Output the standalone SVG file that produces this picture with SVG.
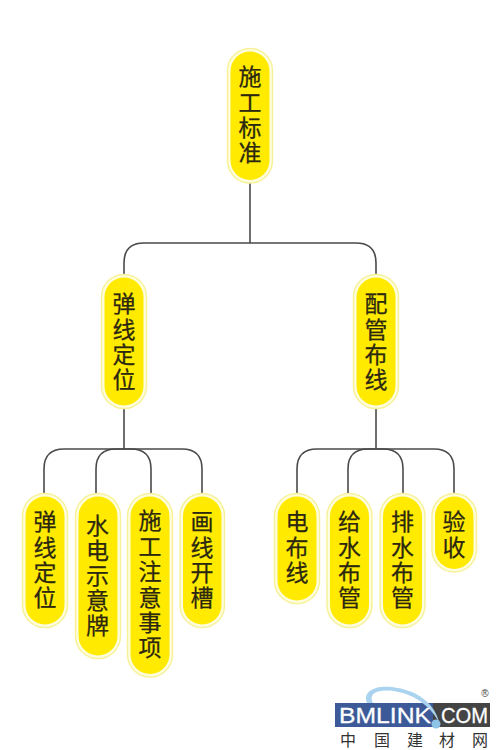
<svg xmlns="http://www.w3.org/2000/svg" width="500" height="750" viewBox="0 0 500 750">
<style>
.o{fill:#fffde0;stroke:#f7f29a;stroke-width:1.5}
.i{fill:#ffea00}
.t{font-family:"Noto Sans CJK SC","Noto Sans CJK TC",sans-serif;font-size:23px;fill:#2b2710;stroke:#2b2710;stroke-width:.25;text-anchor:middle}
.c{fill:none;stroke:#4a4a4a;stroke-width:1.6}
.l{font-family:"Liberation Sans",sans-serif;font-size:22px;fill:#fff;stroke:#fff;stroke-width:.3}
.g{font-family:"Noto Sans CJK SC",sans-serif;font-size:16px;fill:#333;text-anchor:middle}
</style>
<rect width="500" height="750" fill="#fff"/>
<g id="connectors" class="c">
<path d="M250 183V243"/>
<path d="M124 274V263Q124 243 144 243H356Q376 243 376 263V274"/>
<path d="M124 408V449"/>
<path d="M44 493V469Q44 449 64 449H182Q202 449 202 469V493"/>
<path d="M96 493V469Q96 449 116 449H131Q151 449 151 469V493"/>
<path d="M376 408V449"/>
<path d="M297 493V469Q297 449 317 449H434Q454 449 454 469V493"/>
<path d="M348 493V469Q348 449 368 449H383Q403 449 403 469V493"/>
</g>
<g id="n0"><rect class="o" x="227.500" y="48.500" width="45" height="134.500" rx="22.500"/><rect class="i" x="230.500" y="51.500" width="39" height="128.500" rx="19.500"/><text class="t" x="250 250 250 250" y="85 111 136 161">施工标准</text></g>
<g id="n1"><rect class="o" x="101.500" y="274.500" width="45" height="134" rx="22.500"/><rect class="i" x="104.500" y="277.500" width="39" height="128" rx="19.500"/><text class="t" x="124 124 124 124" y="312 338 363 388">弹线定位</text></g>
<g id="n2"><rect class="o" x="353.500" y="274.500" width="45" height="134" rx="22.500"/><rect class="i" x="356.500" y="277.500" width="39" height="128" rx="19.500"/><text class="t" x="376 376 376 376" y="312 338 363 388">配管布线</text></g>
<g id="n3"><rect class="o" x="22.500" y="493.500" width="45" height="134" rx="22.500"/><rect class="i" x="25.500" y="496.500" width="39" height="128" rx="19.500"/><text class="t" x="45 45 45 45" y="530 556 581 606">弹线定位</text></g>
<g id="n4"><rect class="o" x="75.500" y="493.500" width="45" height="165" rx="22.500"/><rect class="i" x="78.500" y="496.500" width="39" height="159" rx="19.500"/><text class="t" x="97.500 97.500 97.500 97.500 97.500" y="534 559 584 609 634">水电示意牌</text></g>
<g id="n5"><rect class="o" x="127.500" y="493.500" width="45" height="183.500" rx="22.500"/><rect class="i" x="130.500" y="496.500" width="39" height="177.500" rx="19.500"/><text class="t" x="150 150 150 150 150 150" y="529 555 580 606 631 656">施工注意事项</text></g>
<g id="n6"><rect class="o" x="180" y="493.500" width="44.500" height="134" rx="22.250"/><rect class="i" x="183" y="496.500" width="38.500" height="128" rx="19.250"/><text class="t" x="202 202 202 202" y="530 556 581 606">画线开槽</text></g>
<g id="n7"><rect class="o" x="274.500" y="493.500" width="45" height="110" rx="22.500"/><rect class="i" x="277.500" y="496.500" width="39" height="104" rx="19.500"/><text class="t" x="297 297 297" y="530 556 581">电布线</text></g>
<g id="n8"><rect class="o" x="327" y="493.500" width="45" height="134" rx="22.500"/><rect class="i" x="330" y="496.500" width="39" height="128" rx="19.500"/><text class="t" x="349.500 349.500 349.500 349.500" y="530 556 581 606">给水布管</text></g>
<g id="n9"><rect class="o" x="380" y="493.500" width="45" height="134" rx="22.500"/><rect class="i" x="383" y="496.500" width="39" height="128" rx="19.500"/><text class="t" x="402.500 402.500 402.500 402.500" y="530 556 581 606">排水布管</text></g>
<g id="n10"><rect class="o" x="432" y="493.500" width="44.500" height="78.500" rx="22.250"/><rect class="i" x="435" y="496.500" width="38.500" height="72.500" rx="19.250"/><text class="t" x="454 454" y="530 556">验收</text></g>
<rect x="335" y="703" width="98" height="24" fill="#3d5a98"/>
<rect x="433" y="703" width="57" height="24" fill="#444"/>
<path d="M367 703C362 690 378 684 398 688C420 692 435 705 439 722C428 703 412 694 394 691C378 689 368 693 373 703Z" fill="#a9d3ef"/>
<circle cx="436" cy="724" r="4.500" fill="#8ec3e8"/>
<text class="l" x="339" y="722.500" textLength="92" lengthAdjust="spacingAndGlyphs">BMLINK</text>
<text class="l" x="441" y="722.500" textLength="47" lengthAdjust="spacingAndGlyphs">COM</text>
<text x="485" y="697" font-family="Liberation Sans,sans-serif" font-size="10" fill="#444" text-anchor="middle">®</text>
<text class="g" x="348 382 415 447 480" y="746">中国建材网</text>
</svg>
